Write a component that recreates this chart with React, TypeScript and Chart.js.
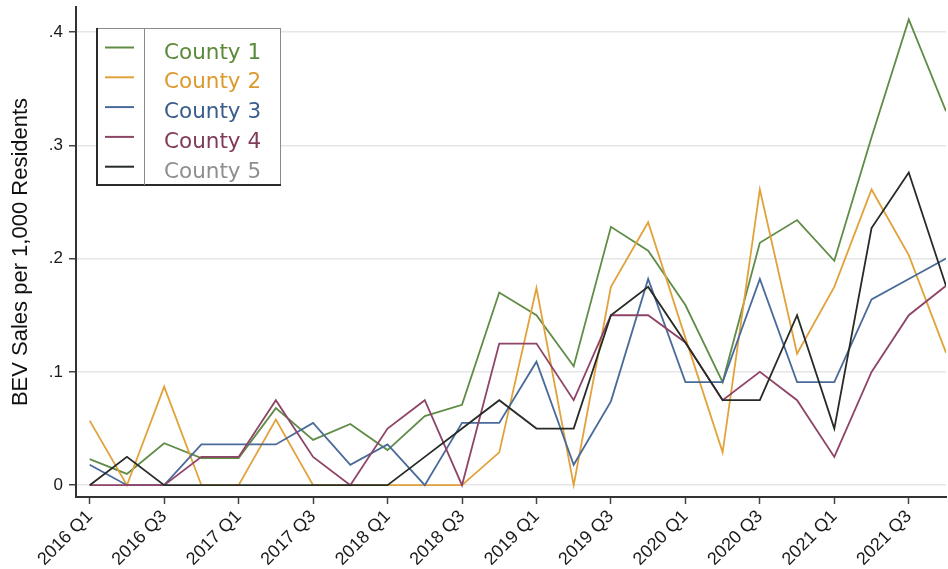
import React, { useEffect, useRef } from "react";
import { Chart, registerables } from "chart.js";

Chart.register(...registerables);

const quarters = [
  "2016 Q1", "2016 Q2", "2016 Q3", "2016 Q4",
  "2017 Q1", "2017 Q2", "2017 Q3", "2017 Q4",
  "2018 Q1", "2018 Q2", "2018 Q3", "2018 Q4",
  "2019 Q1", "2019 Q2", "2019 Q3", "2019 Q4",
  "2020 Q1", "2020 Q2", "2020 Q3", "2020 Q4",
  "2021 Q1", "2021 Q2", "2021 Q3", "2021 Q4",
];

const seriesNames = ["County 1", "County 2", "County 3", "County 4", "County 5"];

const county1 = [0.023, 0.010, 0.037, 0.024, 0.024, 0.068, 0.040, 0.054, 0.031, 0.061, 0.071, 0.170,
  0.150, 0.105, 0.228, 0.207, 0.159, 0.091, 0.214, 0.234, 0.198, 0.307, 0.411, 0.330];
const county2 = [0.057, 0, 0.087, 0, 0, 0.058, 0, 0, 0, 0, 0, 0.029,
  0.174, 0, 0.175, 0.232, 0.130, 0.029, 0.261, 0.116, 0.175, 0.261, 0.203, 0.117];
const county3 = [0.018, 0, 0, 0.036, 0.036, 0.036, 0.055, 0.018, 0.036, 0, 0.055, 0.055,
  0.109, 0.018, 0.074, 0.182, 0.091, 0.091, 0.182, 0.091, 0.091, 0.164, 0.182, 0.200];
const county4 = [0, 0, 0, 0.025, 0.025, 0.075, 0.025, 0, 0.050, 0.075, 0, 0.125,
  0.125, 0.075, 0.150, 0.150, 0.126, 0.075, 0.100, 0.075, 0.025, 0.100, 0.150, 0.176];
const county5 = [0, 0.025, 0, 0, 0, 0, 0, 0, 0, 0.025, 0.050, 0.075,
  0.050, 0.050, 0.150, 0.175, 0.126, 0.075, 0.075, 0.150, 0.050, 0.227, 0.276, 0.176];

const yTickValues = [0, 0.1, 0.2, 0.3, 0.4];
const xTickIndices = [0, 2, 4, 6, 8, 10, 12, 14, 16, 18, 20, 22];

const allSeries = [county1, county2, county3, county4, county5];
const lineColors = ["#5f8c46", "#e2a23b", "#4a6b9a", "#8e4467", "#262b26"];
const textColors = ["#5b8a3a", "#dc9a30", "#3a5d8c", "#803a5a", "#8f8f8f"];

const legendPlugin = {
  id: "boxLegend",
  afterDraw(chart: any) {
    const ctx = chart.ctx as CanvasRenderingContext2D;
    ctx.save();
    const x0 = 97, y0 = 28, x1 = 281, y1 = 185;
    ctx.fillStyle = "#ffffff";
    ctx.fillRect(x0, y0, x1 - x0, y1 - y0);
    ctx.strokeStyle = "#8a8a8a";
    ctx.lineWidth = 1;
    ctx.strokeRect(x0 + 0.5, y0 + 0.5, x1 - x0 - 1, y1 - y0 - 1);
    ctx.strokeStyle = "#2a2a2a";
    ctx.lineWidth = 2;
    ctx.beginPath();
    ctx.moveTo(x0, y0);
    ctx.lineTo(x0, y1);
    ctx.lineTo(x1, y1);
    ctx.stroke();
    ctx.strokeStyle = "#8a8a8a";
    ctx.lineWidth = 1;
    ctx.beginPath();
    ctx.moveTo(144.5, y0);
    ctx.lineTo(144.5, y1);
    ctx.stroke();
    ctx.font = '21.5px "DejaVu Sans", Verdana, sans-serif';
    ctx.textBaseline = "alphabetic";
    ctx.textAlign = "left";
    seriesNames.forEach((name, k) => {
      const ly = 47.5 + 29.8 * k;
      ctx.strokeStyle = lineColors[k];
      ctx.lineWidth = 2;
      ctx.beginPath();
      ctx.moveTo(105, ly);
      ctx.lineTo(134, ly);
      ctx.stroke();
      ctx.fillStyle = textColors[k];
      ctx.fillText(name, 164, 58.5 + 29.8 * k);
    });
    ctx.restore();
  },
};

export default function App() {
  const ref = useRef<HTMLCanvasElement | null>(null);
  useEffect(() => {
    document.body.style.margin = "0";
    const canvas = ref.current;
    if (!canvas) return;
    const chart = new Chart(canvas, {
      type: "line",
      data: {
        datasets: allSeries.map((vals, i) => ({
          label: seriesNames[i],
          data: vals.map((v, j) => ({ x: j, y: v })),
          borderColor: lineColors[i],
          backgroundColor: lineColors[i],
          borderWidth: 1.8,
          pointRadius: 0,
          tension: 0,
          fill: false,
          order: 4 - i,
        })),
      },
      options: {
        animation: false,
        responsive: false,
        layout: { padding: { top: 7, right: 2, left: 0, bottom: 0 } },
        plugins: { legend: { display: false }, tooltip: { enabled: false } },
        scales: {
          x: {
            type: "linear",
            min: -0.368,
            max: 23,
            afterBuildTicks: (s: any) => {
              s.ticks = xTickIndices.map((v) => ({ value: v }));
            },
            afterFit: (s: any) => {
              s.height = 72;
              s.paddingLeft = 0;
              s.paddingRight = 0;
            },
            grid: {
              drawOnChartArea: false,
              drawTicks: true,
              tickLength: 7,
              tickColor: "#444",
              tickWidth: 1.5,
            },
            border: { display: true, color: "#333", width: 2 },
            ticks: {
              autoSkip: false,
              minRotation: 45,
              maxRotation: 45,
              padding: 2,
              color: "#1a1a1a",
              font: { family: '"Liberation Sans", Arial, sans-serif', size: 18 },
              callback: (v: any) => quarters[Math.round(Number(v))] ?? "",
            },
          },
          y: {
            type: "linear",
            min: -0.0104,
            max: 0.422,
            afterBuildTicks: (s: any) => {
              s.ticks = yTickValues.map((v) => ({ value: v }));
            },
            afterFit: (s: any) => {
              s.width = 76;
              s.paddingTop = 0;
              s.paddingBottom = 0;
            },
            grid: {
              color: "#e6e6e6",
              lineWidth: 1.5,
              drawTicks: true,
              tickLength: 7,
              tickColor: "#444",
              tickWidth: 1.5,
            },
            border: { display: true, color: "#333", width: 2 },
            ticks: {
              padding: 6,
              color: "#1a1a1a",
              font: { family: '"Liberation Sans", Arial, sans-serif', size: 17 },
              callback: (v: any) => {
                const n = Number(v);
                if (Math.abs(n) < 1e-9) return "0";
                return "." + Math.round(n * 10);
              },
            },
            title: {
              display: true,
              text: "BEV Sales per 1,000 Residents",
              color: "#111",
              font: { family: '"Liberation Sans", Arial, sans-serif', size: 22 },
              padding: { top: 8, bottom: 0 },
            },
          },
        },
      },
      plugins: [legendPlugin],
    });
    return () => chart.destroy();
  }, []);
  return (
    <canvas
      ref={ref}
      width={948}
      height={569}
      style={{ display: "block", width: "948px", height: "569px" }}
    />
  );
}
